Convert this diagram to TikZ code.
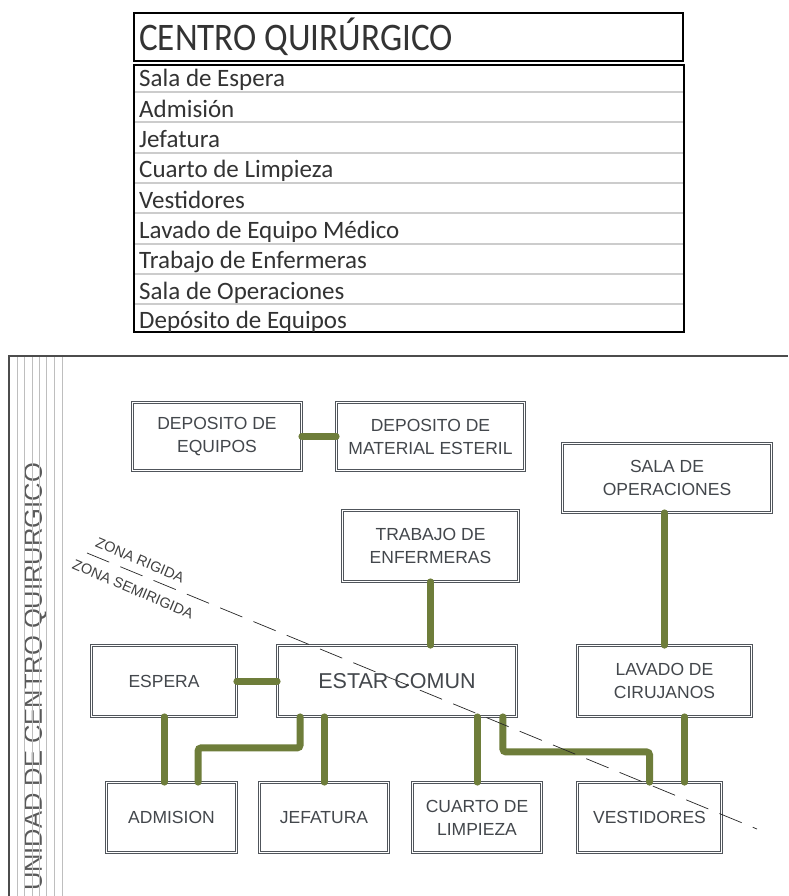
\documentclass[tikz,border=0pt]{standalone}
\usepackage{fontspec}
\setmainfont{Liberation Sans}
\newfontfamily\calibri{Carlito}
\definecolor{verde}{HTML}{6E7D3A}
\definecolor{borde}{HTML}{50555B}
\definecolor{texto}{HTML}{43474C}
\definecolor{rejilla}{HTML}{BEBEBE}
\tikzstyle{sala} = [rectangle, draw=borde, double=white, double distance=1.6pt,
    line width=0.8pt, text=texto, align=center, inner sep=0pt,
    font=\fontsize{17.5}{23}\selectfont]
\tikzstyle{pasillo} = [draw=verde, line width=7pt, line cap=round, rounded corners=3pt]
\tikzstyle{fila} = [anchor=base west, inner sep=0pt, text=black!80,
    font=\calibri\fontsize{25}{28}\selectfont]
\tikzstyle{zona} = [inner sep=0pt, text=black!75, rotate=-23,
    font=\fontsize{14.5}{16}\selectfont]

\begin{document}
\begin{tikzpicture}[x=1pt, y=-1pt]
    \useasboundingbox (0,0) rectangle (788,896);
    \fill[white] (0,0) rectangle (788,896);
    % Tabla de ambientes
    \draw[line width=2pt] (134,13) rectangle (683,61);
    \node [anchor=base west, inner sep=0pt, text=black!80,
        font=\calibri\fontsize{39}{40}\selectfont] (titulo) at (139,51)
        {\scalebox{0.9}[1]{CENTRO QUIRÚRGICO}};
    \draw[black!20, line width=2pt] (135,92) -- (683,92);
    \draw[black!20, line width=2pt] (135,122.3) -- (683,122.3);
    \draw[black!20, line width=2pt] (135,152.6) -- (683,152.6);
    \draw[black!20, line width=2pt] (135,182.9) -- (683,182.9);
    \draw[black!20, line width=2pt] (135,213.2) -- (683,213.2);
    \draw[black!20, line width=2pt] (135,243.5) -- (683,243.5);
    \draw[black!20, line width=2pt] (135,273.8) -- (683,273.8);
    \draw[black!20, line width=2pt] (135,304.1) -- (683,304.1);
    \draw[line width=2pt] (134,65) rectangle (684,332);
    \node [fila] (f1) at (139,87) {Sala de Espera};
    \node [fila] (f2) at (139,117.3) {Admisión};
    \node [fila] (f3) at (139,147.6) {Jefatura};
    \node [fila] (f4) at (139,177.9) {Cuarto de Limpieza};
    \node [fila] (f5) at (139,208.2) {Vestidores};
    \node [fila] (f6) at (139,238.5) {Lavado de Equipo Médico};
    \node [fila] (f7) at (139,268.8) {Trabajo de Enfermeras};
    \node [fila] (f8) at (139,299.1) {Sala de Operaciones};
    \node [fila] (f9) at (139,328.4) {Depósito de Equipos};

    % Marco lateral
    \node [rotate=90, inner sep=0pt, text=black!65,
        font=\fontsize{25.5}{30}\selectfont] (unidad) at (35.5,677)
        {UNIDAD DE CENTRO QUIRURGICO};
    \draw[rejilla, line width=1pt] (17,356) -- (17,896);
    \draw[rejilla, line width=1pt] (24,356) -- (24,896);
    \draw[rejilla, line width=1pt] (32,356) -- (32,896);
    \draw[rejilla, line width=1pt] (39,356) -- (39,896);
    \draw[rejilla, line width=1pt] (46,356) -- (46,896);
    \draw[rejilla, line width=1pt] (54,356) -- (54,896);
    \draw[rejilla, line width=1pt] (62,356) -- (62,896);
    \draw[black!70, line width=1.5pt] (9,896) -- (9,356) -- (788,356);

    % Place nodes
    \node [sala, minimum width=169, minimum height=68] (depequipos) at (217,436.5) {DEPOSITO DE\\EQUIPOS};
    \node [sala, minimum width=188, minimum height=68] (depmaterial) at (430.5,436.5) {DEPOSITO DE\\MATERIAL ESTERIL};
    \node [sala, minimum width=209, minimum height=69] (operaciones) at (667,478) {SALA DE\\OPERACIONES};
    \node [sala, minimum width=176, minimum height=71] (enfermeras) at (430.5,546) {TRABAJO DE\\ENFERMERAS};
    \node [sala, minimum width=145, minimum height=71] (espera) at (164,681) {ESPERA};
    \node [sala, minimum width=239, minimum height=71,
        font=\fontsize{21.5}{24}\selectfont] (estar) at (397,681) {ESTAR COMUN};
    \node [sala, minimum width=174, minimum height=71] (lavado) at (664.5,681) {LAVADO DE\\CIRUJANOS};
    \node [sala, minimum width=130, minimum height=70] (admision) at (171.5,817.5) {ADMISION};
    \node [sala, minimum width=129, minimum height=70] (jefatura) at (324,817.5) {JEFATURA};
    \node [sala, minimum width=129, minimum height=70] (limpieza) at (477,817.5) {CUARTO DE\\LIMPIEZA};
    \node [sala, minimum width=144, minimum height=70] (vestidores) at (649.5,817.5) {VESTIDORES};

    % Draw edges
    \path [pasillo] (depequipos.east) -- (depmaterial.west);
    \path [pasillo] (enfermeras.south) -- (enfermeras.south |- estar.north);
    \path [pasillo] (lavado.north |- operaciones.south) -- (lavado.north);
    \path [pasillo] (espera.east) -- (estar.west);
    \path [pasillo] (espera.south) -- (espera.south |- admision.north);
    \path [pasillo] ([xshift=23pt]estar.south west) -- ++(0,31) -| ([xshift=92pt]admision.north west);
    \path [pasillo] (jefatura.north |- estar.south) -- (jefatura.north);
    \path [pasillo] (limpieza.north |- estar.south) -- (limpieza.north);
    \path [pasillo] ([xshift=-14pt]estar.south east) -- ++(0,35) -| (vestidores.north);
    \path [pasillo] ([xshift=20pt]lavado.south) -- ([xshift=20pt]lavado.south |- vestidores.north);

    % Limite de zonas
    \draw[black!85, line width=0.7pt, dash pattern=on 24pt off 12pt] (87,553) -- (757,829);
    \node [zona] (rigida) at (140,560) {ZONA RIGIDA};
    \node [zona] (semirigida) at (133,589) {ZONA SEMIRIGIDA};
\end{tikzpicture}
\end{document}
